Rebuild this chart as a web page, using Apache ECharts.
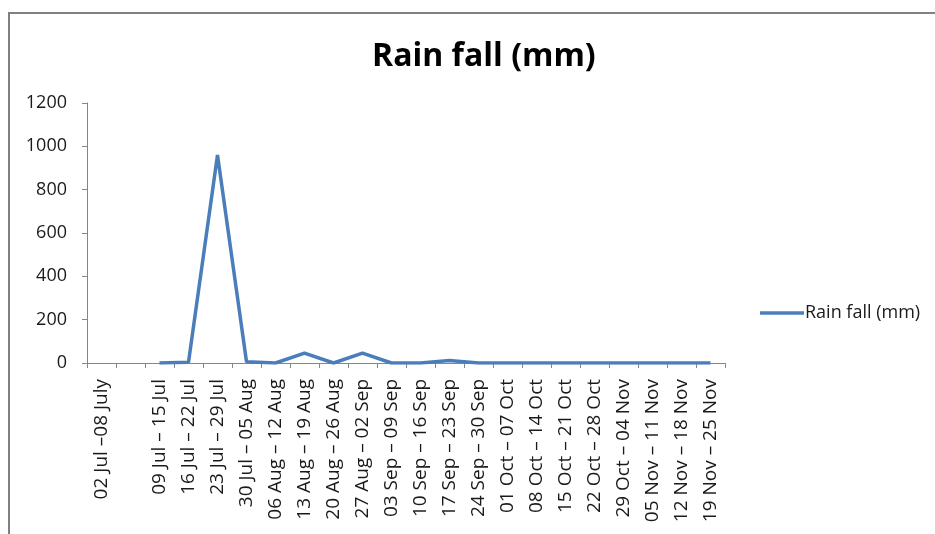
<!DOCTYPE html>
<html>
<head>
<meta charset="utf-8">
<script src="https://cdn.jsdelivr.net/npm/echarts@6/dist/echarts.min.js"></script>
<style>
  html, body { margin: 0; padding: 0; background: #fff; }
  #chart { width: 935px; height: 534px; }
</style>
</head>
<body>
<div id="chart"></div>
<script>
// weekly periods (second one has no label in the original)
var weeks = [
  "02 Jul \u201308 July", "",
  "09 Jul \u2013 15 Jul", "16 Jul \u2013 22 Jul", "23 Jul \u2013 29 Jul",
  "30 Jul \u2013 05 Aug", "06 Aug \u2013 12 Aug", "13 Aug \u2013 19 Aug",
  "20 Aug \u2013 26 Aug", "27 Aug \u2013 02 Sep", "03 Sep \u2013 09 Sep",
  "10 Sep \u2013 16 Sep", "17 Sep \u2013 23 Sep", "24 Sep \u2013 30 Sep",
  "01 Oct \u2013 07 Oct", "08 Oct \u2013 14 Oct", "15 Oct \u2013 21 Oct",
  "22 Oct \u2013 28 Oct", "29 Oct \u2013 04 Nov", "05 Nov \u2013 11 Nov",
  "12 Nov \u2013 18 Nov", "19 Nov \u2013 25 Nov"
];
// rainfall per week, mm (no value for the first two)
var rainfall = [null, null, 0, 3, 960, 6, 0, 46, 0, 46, 0, 0, 12, 0, 0, 0, 0, 0, 0, 0, 0, 0];
var seriesName = "Rain fall (mm)";

var font = "'Open Sans', 'Noto Sans', sans-serif";
var axisGray = "#868686";

var myChart = echarts.init(document.getElementById("chart"));
var option = {
  animation: false,
  backgroundColor: "#fff",
  title: {
    text: "Rain fall (mm)",
    left: 367,
    top: 36,
    textStyle: { fontFamily: font, fontSize: 32, fontWeight: "bold", color: "#000" }
  },
  legend: {
    data: [seriesName],
    left: 755,
    top: 299,
    icon: "rect",
    itemWidth: 44,
    itemHeight: 3.5,
    itemGap: 4,
    textStyle: { fontFamily: font, fontSize: 18, color: "#1a1a1a", padding: [0, 0, 0, -4] }
  },
  grid: { left: 87, right: 210, top: 103, bottom: 171, containLabel: false },
  xAxis: {
    type: "category",
    data: weeks,
    boundaryGap: true,
    axisLine: { lineStyle: { color: axisGray, width: 1 } },
    axisTick: { show: true, length: 5, interval: 0, lineStyle: { color: axisGray } },
    axisLabel: {
      interval: 0,
      rotate: 90,
      margin: 16,
      fontFamily: font,
      fontSize: 19,
      color: "#1a1a1a"
    },
    splitLine: { show: false }
  },
  yAxis: {
    type: "value",
    min: 0,
    max: 1200,
    interval: 200,
    axisLine: { show: true, lineStyle: { color: axisGray, width: 1 } },
    axisTick: { show: true, length: 5, lineStyle: { color: axisGray } },
    axisLabel: {
      margin: 20,
      fontFamily: font,
      fontSize: 18,
      color: "#1a1a1a",
      formatter: function (v) { return String(v); }
    },
    splitLine: { show: false }
  },
  series: [{
    name: seriesName,
    type: "line",
    data: rainfall,
    symbol: "none",
    connectNulls: false,
    lineStyle: { color: "#4a7ebb", width: 3.5 },
    itemStyle: { color: "#4a7ebb" }
  }],
  graphic: [{
    type: "rect",
    shape: { x: 9, y: 13, width: 1000, height: 1000 },
    style: { fill: null, stroke: "#808080", lineWidth: 2 },
    silent: true
  }]
};
myChart.setOption(option);
</script>
</body>
</html>
